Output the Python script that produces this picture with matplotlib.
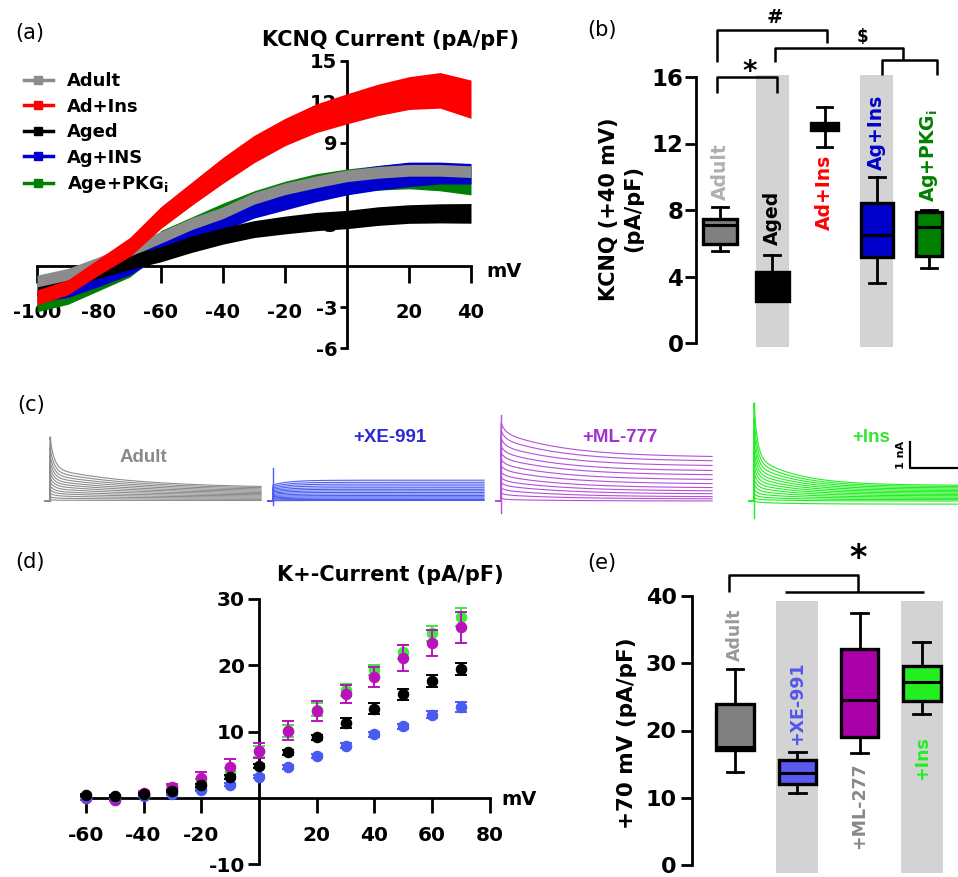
import numpy as np
import matplotlib
matplotlib.use('Agg')
import matplotlib.pyplot as plt
from matplotlib.lines import Line2D

# ---------------- data ----------------
# (a) KCNQ current-voltage bands (mean +/- sem, pA/pF)
kcnq_mv = [-100, -90, -80, -70, -60, -50, -40, -30, -20, -10, 0, 10, 20, 30, 40]
kcnq_labels = ['Adult', 'Ad+Ins', 'Aged', 'Ag+INS', r'Age+PKG$_\mathbf{i}$']
adult_mean = [-1.1, -0.6, 0.25, 1.15, 2.1, 3.1, 3.9, 4.95, 5.65, 6.15, 6.6, 6.85, 7.0, 7.0, 6.9]
adult_sem = [0.43] * 15
adins_mean = [-2.3, -1.55, -0.05, 1.4, 3.55, 5.3, 7.0, 8.55, 9.8, 10.8, 11.5, 12.15, 12.65, 12.85, 12.2]
adins_sem = [0.55, 0.55, 0.6, 0.7, 0.8, 0.85, 0.95, 1.0, 1.0, 1.05, 1.1, 1.15, 1.2, 1.3, 1.4]
aged_mean = [-1.75, -1.1, -0.33, 0.3, 0.86, 1.6, 2.2, 2.7, 3.0, 3.25, 3.4, 3.65, 3.8, 3.85, 3.85]
aged_sem = [0.5, 0.5, 0.55, 0.55, 0.55, 0.6, 0.6, 0.62, 0.65, 0.67, 0.67, 0.68, 0.68, 0.7, 0.72]
agins_mean = [-2.2, -1.85, -1.0, -0.1, 1.3, 2.5, 3.3, 4.3, 5.0, 5.6, 6.1, 6.45, 6.7, 6.8, 6.75]
agins_sem = [0.45, 0.45, 0.5, 0.55, 0.6, 0.65, 0.7, 0.8, 0.9, 0.9, 0.9, 0.9, 0.9, 0.8, 0.75]
agpkg_mean = [-2.95, -2.35, -1.3, -0.2, 1.8, 2.7, 3.7, 4.6, 5.3, 5.85, 6.25, 6.45, 6.6, 6.5, 6.25]
agpkg_sem = [0.4, 0.45, 0.5, 0.6, 0.8, 0.9, 0.9, 0.9, 0.9, 0.9, 0.85, 0.9, 0.95, 1.0, 1.05]

# (b) KCNQ at +40 mV box stats
b_groups = ['Adult', 'Aged', 'Ad+Ins', 'Ag+Ins', r'Ag+PKG$_\mathbf{i}$']
b_whislo = [5.55, 2.5, 11.8, 3.6, 4.5]
b_q1 = [5.95, 2.5, 12.8, 5.2, 5.25]
b_med = [7.1, 3.3, 13.0, 6.5, 6.95]
b_q3 = [7.45, 4.3, 13.25, 8.4, 7.9]
b_whishi = [8.2, 5.3, 14.2, 10.0, 8.0]

# (c) example current families (nA): peak, slow-component start, steady end
c_titles = ['Adult', '+XE-991', '+ML-777', '+Ins']
adult_peak = [2.46, 2.05, 1.75, 1.5, 1.28, 1.08, 0.9, 0.74, 0.58, 0.44, 0.3, 0.16, 0.05]
adult_s0 = [1.25, 1.12, 1.0, 0.89, 0.78, 0.68, 0.58, 0.48, 0.38, 0.29, 0.2, 0.11, 0.03]
adult_end = [0.5, 0.46, 0.42, 0.38, 0.34, 0.3, 0.26, 0.22, 0.18, 0.14, 0.1, 0.06, 0.02]
xe_peak = [0.62, 0.56, 0.5, 0.45, 0.4, 0.35, 0.3, 0.26, 0.21, 0.17, 0.12, 0.08, 0.04, 0.01]
xe_s0 = [0.62, 0.56, 0.5, 0.45, 0.4, 0.35, 0.3, 0.26, 0.21, 0.17, 0.12, 0.08, 0.04, 0.01]
xe_end = [0.8, 0.72, 0.65, 0.58, 0.51, 0.45, 0.39, 0.33, 0.27, 0.21, 0.16, 0.11, 0.06, 0.02]
ml_peak = [3.0, 2.7, 2.4, 2.1, 1.85, 1.6, 1.35, 1.1, 0.9, 0.7, 0.5, 0.3, 0.1]
ml_s0 = [2.66, 2.4, 2.13, 1.88, 1.65, 1.42, 1.2, 0.98, 0.78, 0.6, 0.42, 0.24, 0.06]
ml_end = [1.68, 1.52, 1.34, 1.15, 0.99, 0.81, 0.65, 0.5, 0.38, 0.27, 0.16, 0.08, 0.0]
ins_peak = [3.77, 3.2, 2.7, 2.3, 1.95, 1.65, 1.35, 1.1, 0.85, 0.65, 0.45, 0.28, 0.12, 0.0]
ins_s0 = [1.73, 1.55, 1.38, 1.22, 1.07, 0.93, 0.79, 0.66, 0.53, 0.4, 0.28, 0.16, 0.06, -0.05]
ins_end = [0.6, 0.55, 0.5, 0.45, 0.4, 0.35, 0.3, 0.25, 0.2, 0.15, 0.1, 0.05, 0.0, -0.12]
c_tau_fast = [10, 10, 10, 8]
c_tau_slow = [200, 40, 150, 100]
c_transient_lo = [0.0, -0.15, -0.46, -0.65]
c_transient_hi = [2.46, 1.27, 3.3, 3.77]

# (d) K+ current I-V (mean, sem)
d_mv = [-60, -50, -40, -30, -20, -10, 0, 10, 20, 30, 40, 50, 60, 70]
d_green = [-0.1, -0.3, 0.6, 1.5, 2.4, 3.9, 7.0, 10.1, 13.3, 16.2, 19.3, 22.0, 24.8, 27.3]
d_green_sem = [0.2, 0.2, 0.2, 0.3, 0.5, 0.6, 0.8, 0.9, 1.0, 0.9, 0.8, 1.0, 1.2, 1.4]
d_magenta = [-0.1, -0.35, 0.65, 1.65, 3.0, 4.6, 7.1, 10.15, 13.05, 15.65, 18.25, 21.1, 23.35, 25.7]
d_magenta_sem = [0.2, 0.2, 0.3, 0.4, 0.9, 1.2, 1.1, 1.4, 1.5, 1.35, 1.5, 1.9, 1.95, 2.4]
d_blue = [0.15, 0.1, 0.25, 0.55, 1.15, 2.0, 3.2, 4.7, 6.35, 7.85, 9.55, 10.8, 12.55, 13.7]
d_blue_sem = [0.1, 0.1, 0.1, 0.15, 0.2, 0.2, 0.25, 0.3, 0.3, 0.35, 0.4, 0.4, 0.5, 0.8]
d_black = [0.4, 0.25, 0.5, 1.0, 1.9, 3.1, 4.85, 6.85, 9.1, 11.3, 13.45, 15.6, 17.6, 19.5]
d_black_sem = [0.1, 0.1, 0.15, 0.2, 0.25, 0.3, 0.3, 0.4, 0.4, 0.75, 0.8, 0.85, 0.95, 0.9]

# (e) +70 mV box stats
e_groups = ['Adult', '+XE-991', '+ML-277', '+Ins']
e_whislo = [13.8, 10.7, 16.6, 22.4]
e_q1 = [17.1, 12.0, 19.0, 24.4]
e_med = [17.5, 13.7, 24.5, 27.2]
e_q3 = [23.9, 15.6, 32.1, 29.6]
e_whishi = [29.1, 16.8, 37.5, 33.1]

# ---------------- figure ----------------
plt.rcParams['font.family'] = ['DejaVu Sans']
plt.rcParams['font.weight'] = 'bold'
plt.rcParams['axes.linewidth'] = 2
plt.rcParams['axes.unicode_minus'] = False
W, H = 958, 877
fig = plt.figure(figsize=(W / 100, H / 100), dpi=100)


def add_ax(xlim, ylim, x0, sx, y0, sy):
    left = x0 + xlim[0] * sx
    right = x0 + xlim[1] * sx
    top = y0 - ylim[1] * sy
    bottom = y0 - ylim[0] * sy
    ax = fig.add_axes([left / W, 1 - bottom / H, (right - left) / W, (bottom - top) / H])
    ax.set_xlim(xlim)
    ax.set_ylim(ylim)
    ax.patch.set_alpha(0)
    return ax


def ftext(x, y, s, **kw):
    return fig.text(x / W, 1 - y / H, s, **kw)


# panel letters
for lab, (px, py) in zip(['(a)', '(b)', '(c)', '(d)', '(e)'],
                         [(30, 33), (602, 30), (31, 405), (30, 562), (602, 563)]):
    ftext(px, py, lab, ha='center', va='center', fontsize=15, weight='normal')

# ---------------- (a) ----------------
axA = add_ax((-101.5, 41), (-6.3, 15.3), 347, 3.1, 266, 13.67)
a_colors = ['#8c8c8c', '#ff0000', '#000000', '#0000cc', '#008000']
a_means = [adult_mean, adins_mean, aged_mean, agins_mean, agpkg_mean]
a_sems = [adult_sem, adins_sem, aged_sem, agins_sem, agpkg_sem]
a_z = [3.3, 3.4, 3.2, 3.1, 3.0]
for m, s, c, z in zip(a_means, a_sems, a_colors, a_z):
    m = np.array(m)
    s = np.array(s)
    axA.fill_between(kcnq_mv, m - s, m + s, color=c, lw=0, zorder=z)
for sp in ['top', 'right']:
    axA.spines[sp].set_visible(False)
axA.spines['left'].set_position(('data', 0))
axA.spines['bottom'].set_position(('data', 0))
axA.spines['left'].set_bounds(-6, 15)
axA.spines['bottom'].set_bounds(-100, 40)
axA.set_xticks([-100, -80, -60, -40, -20, 20, 40])
axA.set_yticks([-6, -3, 3, 6, 9, 12, 15])
axA.tick_params(axis='x', direction='out', length=12, width=2, pad=15, labelsize=14)
axA.tick_params(axis='y', direction='out', length=5, width=2, pad=2, labelsize=14)
axA.text(45, -0.4, 'mV', ha='left', va='center', fontsize=14, clip_on=False)
ftext(391, 40, 'KCNQ Current (pA/pF)', ha='center', va='center', fontsize=15)
handles = [Line2D([], [], color=c, lw=2.5, marker='s', markersize=6) for c in a_colors]
fig.legend(handles, kcnq_labels, loc='upper left', bbox_to_anchor=(24 / W, 1 - 72 / H),
           frameon=False, fontsize=13, handlelength=1.6, handletextpad=0.8,
           labelspacing=0.42, borderpad=0, borderaxespad=0)


def boxpanel(ax, whislo, q1, med, q3, whishi, colors, widths, capw):
    stats = [dict(whislo=a, q1=b, med=c, q3=d, whishi=e, fliers=[])
             for a, b, c, d, e in zip(whislo, q1, med, q3, whishi)]
    pos = list(range(1, len(stats) + 1))
    bp = ax.bxp(stats, positions=pos, widths=widths, capwidths=capw, patch_artist=True,
                showfliers=False,
                boxprops=dict(linewidth=2.4, edgecolor='black'),
                whiskerprops=dict(linewidth=2, color='black'),
                capprops=dict(linewidth=2, color='black'),
                medianprops=dict(linewidth=2.2, color='black'), zorder=3)
    for patch, c in zip(bp['boxes'], colors):
        patch.set_facecolor(c)
    for sp in ['top', 'right', 'bottom']:
        ax.spines[sp].set_visible(False)
    ax.set_xticks([])
    return bp


# ---------------- (b) ----------------
axB = add_ax((0.54, 5.55), (0, 16), 667.75, 52.25, 343, 16.625)
for p in [2, 4]:
    axB.axvspan(p - 0.315, p + 0.315, ymin=-0.015, ymax=1.009, color='#d3d3d3', lw=0,
                clip_on=False, zorder=0)
boxpanel(axB, b_whislo, b_q1, b_med, b_q3, b_whishi,
         ['#808080', '#000000', '#000000', '#0000cc', '#008000'],
         [0.66, 0.64, 0.52, 0.62, 0.5], [0.3, 0.3, 0.27, 0.3, 0.3])
axB.set_yticks([0, 4, 8, 12, 16])
axB.tick_params(axis='y', direction='out', length=8, width=2, pad=1, labelsize=16.5)
b_lab_y = [8.6, 5.9, 11.35, 10.4, 8.5]
b_lab_va = ['bottom', 'bottom', 'top', 'bottom', 'bottom']
b_lab_c = ['#b0b0b0', '#000000', '#ff0000', '#0000cc', '#008000']
for i, (g, y, va, c) in enumerate(zip(b_groups, b_lab_y, b_lab_va, b_lab_c)):
    axB.text(i + 1, y, g, rotation=90, ha='center', va=va, color=c, fontsize=13.5)
bk = dict(color='black', lw=1.8, clip_on=False, solid_capstyle='butt')
axB.plot([0.94, 0.94, 3.05, 3.05], [16.9, 18.85, 18.85, 18.07], **bk)
axB.plot([2.05, 2.05, 4.5, 4.5], [16.9, 17.77, 17.77, 17.05], **bk)
axB.plot([4.1, 4.1, 5.15, 5.15], [16.14, 17.05, 17.05, 16.14], **bk)
axB.plot([0.94, 0.94, 2.09, 2.09], [15.06, 16.0, 16.0, 15.06], **bk)
axB.text(2.05, 19.6, '#', ha='center', va='center', fontsize=14)
axB.text(3.72, 18.4, '\\$', ha='center', va='center', fontsize=12)
axB.text(1.56, 16.3, '*', ha='center', va='center', fontsize=20)
ftext(621, 209, 'KCNQ (+40 mV)\n(pA/pF)', rotation=90, ha='center', va='center',
      fontsize=15, multialignment='center', linespacing=1.3)

# ---------------- (c) ----------------
c_spike_px = [50, 273, 501, 754]
c_colors = ['#8c8c8c', '#4d5ff0', '#b450d8', '#22ee22']
c_peaks = [adult_peak, xe_peak, ml_peak, ins_peak]
c_s0s = [adult_s0, xe_s0, ml_s0, ins_s0]
c_ends = [adult_end, xe_end, ml_end, ins_end]
t = np.linspace(0, 505, 700)
c_axes = []
for k in range(4):
    ax = add_ax((-12, 512), (-1.0, 4.2), c_spike_px[k], 0.418, 501, 26)
    ax.axis('off')
    for pk, s0, en in zip(c_peaks[k], c_s0s[k], c_ends[k]):
        cur = en + (s0 - en) * np.exp(-t / c_tau_slow[k]) + (pk - s0) * np.exp(-t / c_tau_fast[k])
        ax.plot(np.r_[-12, 0, t], np.r_[0, 0, cur], color=c_colors[k], lw=0.8, clip_on=False)
    ax.plot([0, 0], [c_transient_lo[k], c_transient_hi[k]], color=c_colors[k], lw=1.0,
            clip_on=False)
    c_axes.append(ax)
c_lab_pos = [(143, 457), (390, 437), (620, 437), (871, 437)]
c_lab_col = ['#8a8a8a', '#2a2ad0', '#a030d0', '#33e633']
for s, (px, py), c in zip(c_titles, c_lab_pos, c_lab_col):
    ftext(px, py, s, ha='center', va='center', fontsize=13.5, color=c,
          family=['Liberation Sans', 'DejaVu Sans'])
axI = c_axes[3]
axI.plot([373, 373, 520], [2.26, 1.26, 1.26], color='black', lw=1.6, clip_on=False)
axI.text(352, 1.76, '1 nA', rotation=90, ha='center', va='center', fontsize=8)

# ---------------- (d) ----------------
axD = add_ax((-65, 82), (-10.5, 31), 259, 2.886, 797.75, 6.625)
d_series = [(d_green, d_green_sem, '#3de83d'), (d_magenta, d_magenta_sem, '#bb11bb'),
            (d_blue, d_blue_sem, '#4a5cf0'), (d_black, d_black_sem, '#000000')]
for z, (m, s, c) in enumerate(d_series):
    axD.errorbar(d_mv, m, yerr=s, fmt='o', color=c, ms=7.3, capsize=4.5, elinewidth=1.4,
                 capthick=1.4, zorder=3 + z, clip_on=False)
for sp in ['top', 'right']:
    axD.spines[sp].set_visible(False)
axD.spines['left'].set_position(('data', 0))
axD.spines['bottom'].set_position(('data', 0))
axD.spines['left'].set_bounds(-10, 30)
axD.spines['bottom'].set_bounds(-61, 80)
axD.set_xticks([-60, -40, -20, 20, 40, 60, 80])
axD.set_yticks([-10, 10, 20, 30])
axD.tick_params(axis='x', direction='out', length=11, width=2, pad=9, labelsize=14.5)
axD.tick_params(axis='y', direction='out', length=8, width=2, pad=2, labelsize=14.5)
axD.text(84, -0.3, 'mV', ha='left', va='center', fontsize=14, clip_on=False)
ftext(390, 575, 'K+-Current (pA/pF)', ha='center', va='center', fontsize=15)

# ---------------- (e) ----------------
axE = add_ax((0.31, 4.45), (0, 40), 672.7, 62.3, 865, 6.725)
for p in [2, 4]:
    axE.axvspan(p - 0.34, p + 0.34, ymin=-0.03, ymax=0.982, color='#d3d3d3', lw=0,
                clip_on=False, zorder=0)
boxpanel(axE, e_whislo, e_q1, e_med, e_q3, e_whishi,
         ['#808080', '#5a5af0', '#aa00aa', '#22ee22'],
         [0.6, 0.6, 0.6, 0.6], [0.27, 0.27, 0.27, 0.27])
axE.set_yticks([0, 10, 20, 30, 40])
axE.tick_params(axis='y', direction='out', length=8, width=2, pad=3, labelsize=16)
e_lab_y = [30.4, 17.8, 15.3, 19.1]
e_lab_va = ['bottom', 'bottom', 'top', 'top']
e_lab_c = ['#999999', '#5555ee', '#888888', '#22ee22']
for i, (g, y, va, c) in enumerate(zip(e_groups, e_lab_y, e_lab_va, e_lab_c)):
    axE.text(i + 1, y, g, rotation=90, ha='center', va=va, color=c, fontsize=12.5)
axE.plot([0.9, 0.9, 2.97, 2.97], [40.6, 43.1, 43.1, 40.6], **bk)
axE.plot([1.8, 4.03], [40.6, 40.6], **bk)
axE.text(2.97, 45.6, '*', ha='center', va='center', fontsize=24)
ftext(627, 733, '+70 mV (pA/pF)', rotation=90, ha='center', va='center', fontsize=15.5)

fig.savefig('out.png', dpi=100)
